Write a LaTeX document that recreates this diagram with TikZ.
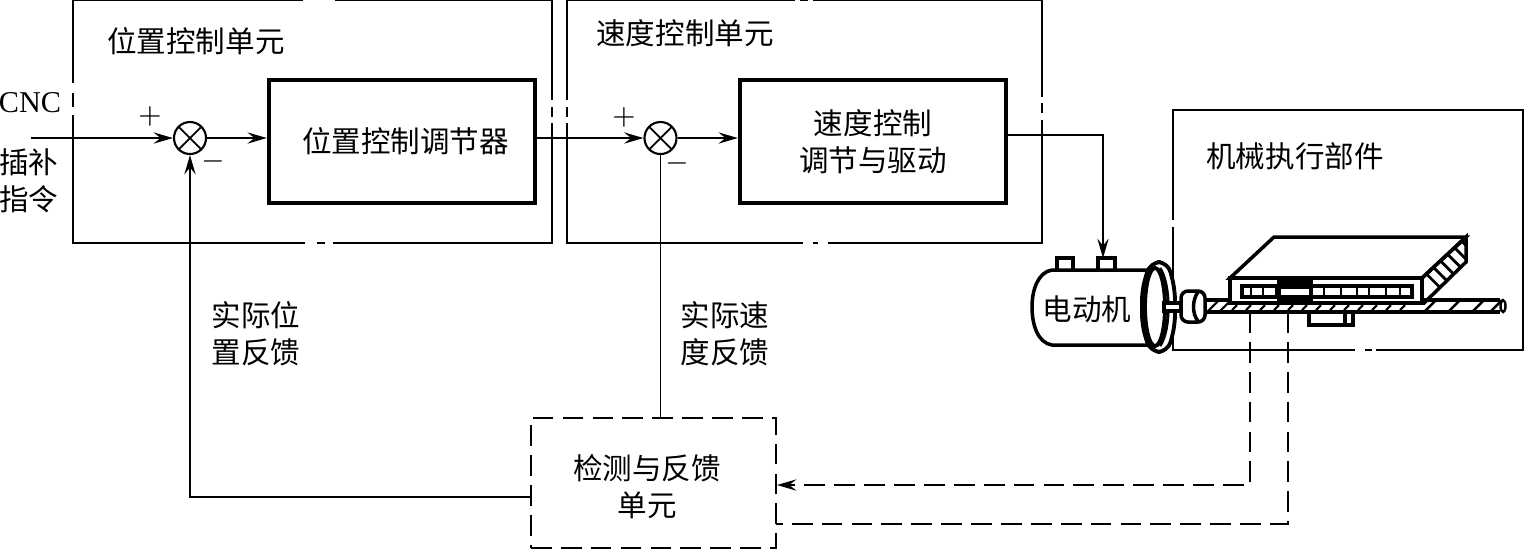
\documentclass[tikz,border=0pt]{standalone}
\usepackage{fontspec}
\usetikzlibrary{arrows.meta}
\newfontfamily\cjk{Noto Sans CJK SC}
\setmainfont{Liberation Serif}

\begin{document}
\begin{tikzpicture}[x=0.01cm,y=-0.01cm,>={Stealth[length=5.5pt,width=3.2pt,inset=2pt]},line width=0.55pt,
    unitbox/.style={draw,inner sep=0pt,minimum height=2.43cm},
    ctrlbox/.style={draw,line width=1.2pt,inner sep=0pt,minimum height=1.23cm,align=center,font=\cjk\fontsize{8.4}{10.5}\selectfont},
    sumnode/.style={draw,circle,fill=white,line width=0.6pt,inner sep=0pt,minimum size=0.32cm,
        path picture={\draw[line width=0.5pt](path picture bounding box.north west)--(path picture bounding box.south east)
            (path picture bounding box.north east)--(path picture bounding box.south west);}},
    lbl/.style={inner sep=0pt,align=center,font=\cjk\fontsize{8.4}{10.5}\selectfont},
    sgn/.style={inner sep=0pt,font=\fontsize{8}{8}\selectfont},
    fbdash/.style={line width=0.6pt,dash pattern=on 5.9pt off 2.6pt},
    boxgap/.style={white,line width=1.2pt},
    part/.style={line width=1pt,fill=white}]
    \useasboundingbox (0,0) rectangle (1524,550);

    \node[unitbox,minimum width=4.79cm] (posunit) at (312.5,121.5) {};
    \node[unitbox,minimum width=4.75cm] (velunit) at (804.5,121.5) {};
    \node[unitbox,minimum width=3.50cm,minimum height=2.39cm] (mechunit) at (1348,230) {};
    \foreach \x/\y in {305/317,325/333}
        \draw[boxgap](\x,243)--(\y,243);
    \draw[boxgap](303,0)--(335,0) (795,0)--(800,0) (808,0)--(813,0);
    \draw[boxgap](803,243)--(813,243) (818,243)--(828,243);
    \draw[boxgap](1355,349.5)--(1365,349.5) (1372,349.5)--(1376,349.5);
    \foreach \x in {552.5,567}
        \draw[boxgap](\x,100)--(\x,107) (\x,117)--(\x,123);
    \draw[boxgap](73,83)--(73,93) (73,107)--(73,115);
    \draw[boxgap](1042,97)--(1042,103) (1042,113)--(1042,120);
    \draw[boxgap](1173,220)--(1173,227);

    \node[lbl] (postitle) at (196,41) {位置控制单元};
    \node[lbl] (veltitle) at (685,33) {速度控制单元};
    \node[lbl] (mechtitle) at (1295,156) {机械执行部件};

    \node[ctrlbox,minimum width=2.66cm] (posreg) at (402,141.5) {\hspace*{0.07cm}位置控制调节器};
    \node[ctrlbox,minimum width=2.66cm] (velreg) at (873,141.5) {速度控制\\调节与驱动};
    \node[sumnode] (sumpos) at (190,138) {};
    \node[sumnode] (sumvel) at (660.5,138) {};
    \node[sgn] (pluspos) at (150,116) {$+$};
    \node[sgn] (minuspos) at (213,161) {$-$};
    \node[sgn] (plusvel) at (624,117) {$+$};
    \node[sgn] (minusvel) at (677,163) {$-$};

    \node[inner sep=0pt,font=\fontsize{8.6}{10}\selectfont] (cnc) at (30,103) {CNC};
    \node[lbl] (cmd) at (29,180.5) {插补\\指令};
    \node[lbl] (posfb) at (256,334) {实际位\\置反馈};
    \node[lbl] (velfb) at (725,334) {实际速\\度反馈};

    \node[fbdash,draw,inner sep=0pt,minimum width=2.45cm,minimum height=1.30cm] (detect) at (653.5,483) {};
    \node[lbl] (detecttext) at (647,487) {检测与反馈\\单元};

    \coordinate (cmdin) at (31,138);
    \coordinate (drvout) at (1006,135);
    \coordinate (motorin) at (1103,258);
    \coordinate (detectpos) at (531,497);
    \coordinate (sensea) at (1250,312);
    \coordinate (senseb) at (1288,312);
    \coordinate (detectin) at (777,485);
    \coordinate (detectout) at (776,524);

    \draw[->](cmdin)--(sumpos.west);
    \draw[->](sumpos.east)--(posreg.west |- sumpos.east);
    \draw[->](posreg.east |- sumvel.west)--(sumvel.west);
    \draw[->](sumvel.east)--(velreg.west |- sumvel.east);
    \draw[->](drvout)-|(motorin);
    \draw[->](detectpos)-|(sumpos.south);
    \draw(sumvel.south)--(sumvel.south |- detect.north);
    \draw[->,fbdash](sensea)|-(detectin);
    \draw[fbdash](senseb)|-(detectout);

    % motor
    \draw[part](1057,270)--(1057,258)--(1073,258)--(1073,270);
    \draw[part](1098,270)--(1098,258)--(1115,258)--(1115,270);
    \draw[part](1148,270)--(1052,270) .. controls (1038,272) and (1032,290) .. (1032,307)
        .. controls (1032,325) and (1038,343) .. (1052,345)--(1148,345);
    \node[lbl] (motor) at (1087,309) {电动机};
    \draw[part,line width=1.1pt,rounded corners=3pt](1150,262)--(1168,262)--(1175,290)--(1175,325)--(1168,352)--(1150,352)--(1142,325)--(1142,290)--cycle;
    \draw[line width=1.1pt](1155,307) ellipse (10 and 39);
    \draw[line width=0.8pt](1160,268) .. controls (1171,285) and (1171,330) .. (1160,346);
    \draw[part](1164,303) rectangle (1181,311);
    \draw[part,rounded corners=2pt](1181,291) rectangle (1205,322);
    \draw[line width=1pt](1198,292) .. controls (1192,300) and (1192,314) .. (1198,321);

    % screw
    \draw[line width=1pt](1205,300)--(1230,300) (1422,300)--(1500,300) (1205,312)--(1500,312);
    \draw[line width=0.7pt](1503,306) ellipse (2.5 and 6);
    \foreach \x in {1207,1219}
        \draw[line width=0.6pt](\x,312)--(\x+12,300);
    \foreach \x in {1232,1246,...,1412}
        \draw[line width=0.6pt](\x,310)--(\x+5,305);
    \foreach \x in {1424,1448,1472,1490}
        \draw[line width=0.7pt](\x,312)--(\x+12,300);

    % table
    \draw[part](1230,278)--(1274,237)--(1466,237)--(1422,278)--cycle;
    \begin{scope}
        \clip (1422,278)--(1466,237)--(1466,262)--(1424,303)--(1422,303)--cycle;
        \foreach \t in {0.1,0.26,...,0.95}
            \draw[line width=0.8pt]({1422+44*\t},{278-41*\t})--({1438+44*\t},{294-41*\t});
    \end{scope}
    \draw[line width=1pt](1422,278)--(1466,237)--(1466,262)--(1424,303)--(1422,303);
    \draw[part](1230,278) rectangle (1422,303);
    \draw[line width=1pt,fill=white](1242,286) rectangle (1412,297);
    \foreach \x in {1251,1263,1276,1324,1341,1357,1369,1386,1400}
        \draw[line width=0.7pt](\x,287)--(\x,296);
    \draw[line width=0.4pt,fill=black](1278,278) rectangle (1312,303);
    \fill[white](1281,288.5) rectangle (1309,295);
    \draw[line width=1pt](1309,312)--(1309,325)--(1353,325)--(1353,312) (1345,312)--(1345,325);
\end{tikzpicture}
\end{document}
